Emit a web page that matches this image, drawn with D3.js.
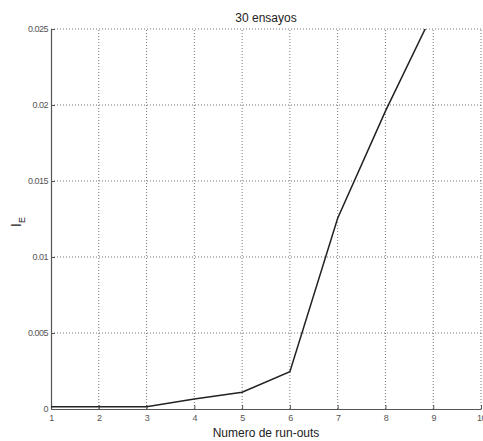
<!DOCTYPE html>
<html>
<head>
<meta charset="utf-8">
<script src="https://cdn.jsdelivr.net/npm/d3@7"></script>
<style>
body { margin: 0; background: #fff; }
text { font-family: "Liberation Sans", Arial, sans-serif; }
</style>
</head>
<body>
<div id="chart"></div>
<script>
const w = 483;
const h = 441;
const margin = {left: 51, right: 2, top: 29, bottom: 32};

// data
const runOuts = [1, 2, 3, 4, 5, 6, 7, 8, 9];
const ieValues = [0.00015, 0.00015, 0.00015, 0.00066, 0.0011, 0.00246, 0.01255, 0.0196, 0.0261];
const xTicks = [1, 2, 3, 4, 5, 6, 7, 8, 9, 10];
const yTicks = [0, 0.005, 0.01, 0.015, 0.02, 0.025];
const yTickLabels = ["0", "0.005", "0.01", "0.015", "0.02", "0.025"];

const svg = d3.select('#chart')
  .append('svg')
  .attr('width', w)
  .attr('height', h);

const x = d3.scaleLinear().domain([1, 10]).range([margin.left, w - margin.right]);
const y = d3.scaleLinear().domain([0, 0.025]).range([h - margin.bottom, margin.top]);

// clip so the curve stops at the top of the axes
svg.append('clipPath').attr('id', 'plot')
  .append('rect')
  .attr('x', margin.left)
  .attr('y', margin.top)
  .attr('width', w - margin.left - margin.right)
  .attr('height', h - margin.top - margin.bottom);

// grid
svg.append('g')
  .selectAll('line')
  .data(xTicks.slice(1))
  .enter().append('line')
  .attr('x1', d => x(d)).attr('x2', d => x(d))
  .attr('y1', y(0)).attr('y2', y(0.025))
  .attr('stroke', '#777').attr('stroke-width', 1)
  .attr('stroke-dasharray', '1,2');

svg.append('g')
  .selectAll('line')
  .data(yTicks.slice(1))
  .enter().append('line')
  .attr('x1', x(1)).attr('x2', x(10))
  .attr('y1', d => y(d)).attr('y2', d => y(d))
  .attr('stroke', '#777').attr('stroke-width', 1)
  .attr('stroke-dasharray', '1,2');

// axes
const xAxis = svg.append('g')
  .attr('transform', `translate(0,${y(0)})`)
  .call(d3.axisBottom(x).tickValues(xTicks).tickFormat(d3.format('d')).tickSizeInner(-4).tickSizeOuter(0).tickPadding(6));

const yAxis = svg.append('g')
  .attr('transform', `translate(${x(1)},0)`)
  .call(d3.axisLeft(y).tickValues(yTicks).tickFormat((d, i) => yTickLabels[i]).tickSizeInner(-4).tickSizeOuter(0).tickPadding(3));

[xAxis, yAxis].forEach(a => {
  a.select('.domain').attr('stroke', '#555').attr('stroke-width', 1.2);
  a.selectAll('.tick line').attr('stroke', '#555');
  a.selectAll('.tick text').attr('fill', '#555').style('font-size', '9px').style('letter-spacing', '-0.5px');
});

// curve
svg.append('path')
  .datum(runOuts.map((d, i) => [d, ieValues[i]]))
  .attr('clip-path', 'url(#plot)')
  .attr('fill', 'none')
  .attr('stroke', '#222')
  .attr('stroke-width', 1.5)
  .attr('d', d3.line().x(d => x(d[0])).y(d => y(d[1])));

// title
svg.append('text')
  .attr('x', (x(1) + x(10)) / 2)
  .attr('y', 22)
  .attr('text-anchor', 'middle')
  .attr('fill', '#222')
  .style('font-size', '12px')
  .text('30 ensayos');

// x label
svg.append('text')
  .attr('x', (x(1) + x(10)) / 2)
  .attr('y', 437)
  .attr('text-anchor', 'middle')
  .attr('fill', '#222')
  .style('font-size', '12px')
  .text('Numero de run-outs');

// y label I_E
const yl = svg.append('text')
  .attr('transform', `translate(21,${(y(0) + y(0.025)) / 2 + 3}) rotate(-90)`)
  .attr('text-anchor', 'middle')
  .attr('fill', '#222')
  .style('font-size', '14px');
yl.append('tspan').text('I');
yl.append('tspan').attr('dy', 4).style('font-size', '9px').text('E');
</script>
</body>
</html>
